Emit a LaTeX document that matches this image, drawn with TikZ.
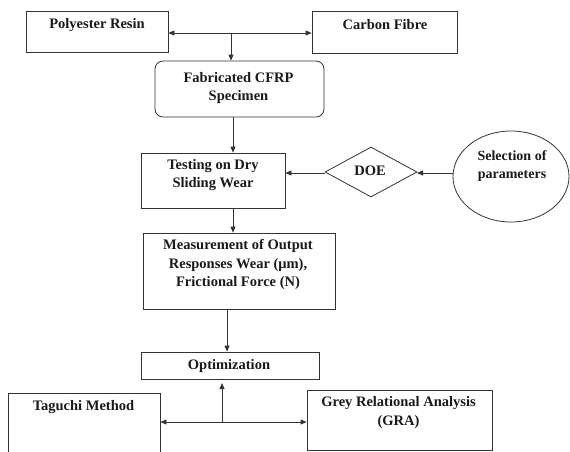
\documentclass[tikz,border=0pt]{standalone}
\usepackage{fontspec}
\setmainfont{Liberation Serif}
\usetikzlibrary{shapes.geometric,arrows.meta}
\begin{document}
\begin{tikzpicture}[x=1pt,y=-1pt,
  box/.style={draw=black!80,line width=0.8pt,rectangle,inner sep=0pt},
  txt/.style={font=\bfseries\fontsize{14.5}{18.5}\selectfont,align=center,inner sep=0pt,text=black!90},
  txtb/.style={font=\bfseries\fontsize{14.5}{19}\selectfont,align=center,inner sep=0pt,text=black!90},
  arr/.style={draw=black!80,line width=0.8pt,-{Triangle[length=6pt,width=5pt]}}]
\useasboundingbox (0,0) rectangle (570,451);
% top boxes
\node[box,minimum width=142pt,minimum height=41pt] (pr) at (97,31.5) {};
\node[txt] (prt) at (97,25) {Polyester Resin};
\node[box,minimum width=145pt,minimum height=42pt] (cf) at (384.5,32) {};
\node[txt] (cft) at (385,25) {Carbon Fibre};
% fabricated
\node[box,rounded corners=8pt,minimum width=169pt,minimum height=56pt] (fab) at (239.5,89) {};
\node[txt] (fabt) at (238.5,88) {Fabricated CFRP\\Specimen};
% testing
\node[box,minimum width=144pt,minimum height=55pt] (test) at (213,180.5) {};
\node[txt] (testt) at (213,175) {Testing on Dry\\Sliding Wear};
% DOE
\node[draw=black!80,line width=0.8pt,diamond,aspect=1.84,minimum width=92pt,minimum height=50pt,inner sep=0pt] (doe) at (371,172) {};
\node[txt] (doet) at (370,171) {DOE};
% selection
\node[draw=black!80,line width=0.8pt,ellipse,minimum width=116pt,minimum height=91pt,inner sep=0pt] (sel) at (511,176.5) {};
\node[txt,font=\bfseries\fontsize{14}{18}\selectfont] (selt) at (512,166) {Selection of\\parameters};
% measurement
\node[box,minimum width=192pt,minimum height=76pt] (meas) at (239,271) {};
\node[txt] (meast) at (238,264.5) {Measurement of Output\\Responses Wear (μm),\\Frictional Force (N)};
% optimization
\node[box,minimum width=178pt,minimum height=27pt] (opt) at (230,365.5) {};
\node[txtb] (optt) at (229,366) {Optimization};
% bottom
\node[box,minimum width=152pt,minimum height=90pt] (tag) at (84,438) {};
\node[txtb] (tagt) at (83.5,407) {Taguchi Method};
\node[box,minimum width=185pt,minimum height=60pt] (gra) at (399.5,420) {};
\node[txtb] (grat) at (398.5,412.5) {Grey Relational Analysis\\(GRA)};
% connectors
\coordinate (j1) at (231,33);
\draw[arr] (j1) -- (j1 -| pr.east);
\draw[arr] (j1) -- (j1 -| cf.west);
\draw[arr] (j1) -- (j1 |- fab.north);
\coordinate (j2) at (233,117);
\draw[arr] (j2) -- (j2 |- test.north);
\coordinate (j3) at (233,208);
\draw[arr] (j3) -- (j3 |- meas.north);
\coordinate (j4) at (227,309);
\draw[arr] (j4) -- (j4 |- opt.north);
\coordinate (j5) at (453,173);
\draw[arr] (j5) -- (417,173) coordinate (j6);
\draw[arr] (325,173) coordinate (j7) -- (j7 -| test.east);
\coordinate (j8) at (222,422);
\coordinate (j9) at (222,383);
\draw[arr] (j8) -- (j9);
\draw[arr] (j8) -- (j8 -| tag.east);
\draw[arr] (j8) -- (j8 -| gra.west);
\end{tikzpicture}
\end{document}
